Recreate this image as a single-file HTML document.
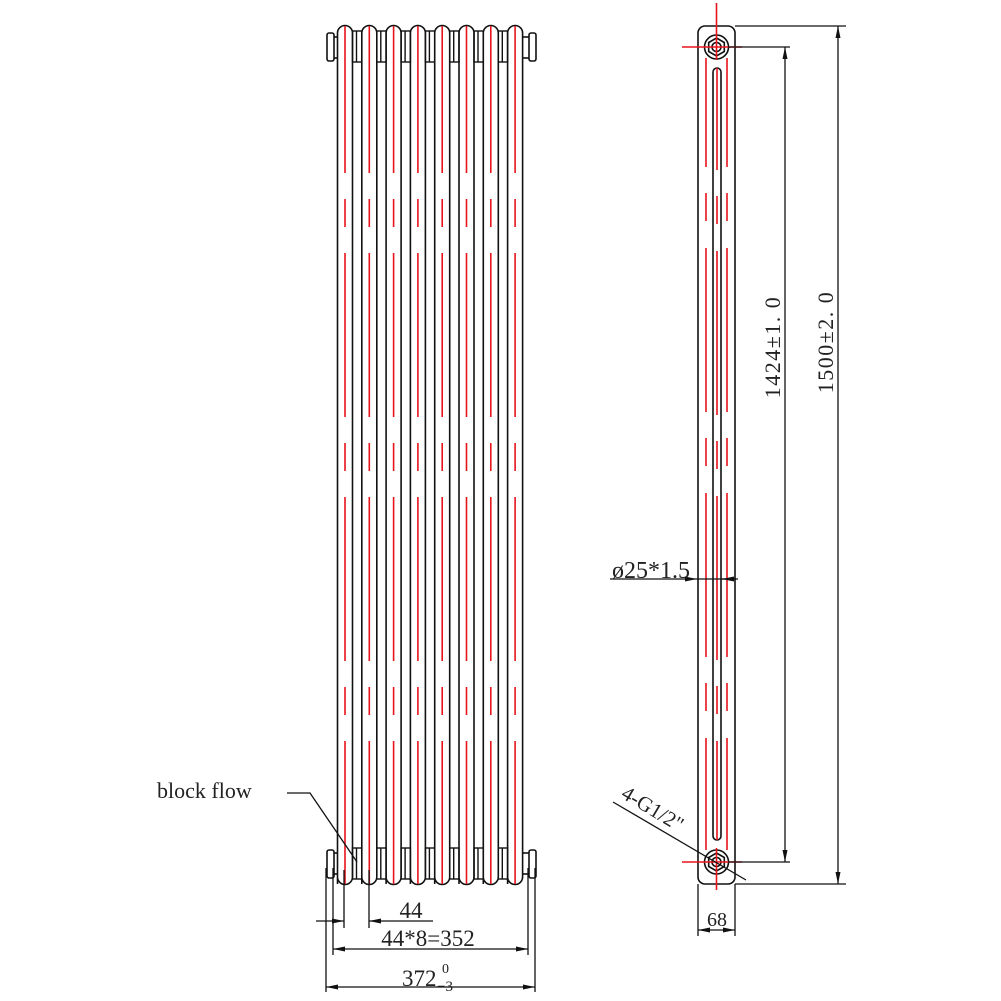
<!DOCTYPE html>
<html><head><meta charset="utf-8"><style>
html,body{margin:0;padding:0;background:#fff;}
svg{display:block;}
text{font-family:"Liberation Serif",serif;fill:#222;}
</style></head><body>
<svg width="1001" height="1001" viewBox="0 0 1001 1001" xmlns="http://www.w3.org/2000/svg" xmlns:xlink="http://www.w3.org/1999/xlink">
<defs>
<marker id="a" markerWidth="12" markerHeight="6" refX="12" refY="3" orient="auto" markerUnits="userSpaceOnUse"><path d="M0,0.5 L12,3 L0,5.5 z" fill="#111"/></marker>
<g id="col">
<path d="M-7.5,884 L-7.5,33 A7.5,7.5 0 0 1 7.5,33 L7.5,877 A7.5,7.5 0 0 1 -7.5,877" stroke="#111" stroke-width="1.6" fill="none"/>
<line x1="0" y1="26" x2="0" y2="884" stroke="#e8141c" stroke-width="1.6" stroke-dasharray="147 26 28 26 164 26 28 26 164 26 28 26 164 26 28 26 164"/>
</g>
<g id="hdr" stroke="#111" stroke-width="1.4" fill="none">
<rect x="7.5" y="31" width="9.3" height="31"/>
<line x1="11.5" y1="31" x2="11.5" y2="62"/>
<rect x="7.5" y="848" width="9.3" height="31"/>
<line x1="11.5" y1="848" x2="11.5" y2="879"/>
</g>
</defs>
<g stroke="#111" stroke-width="1.6" fill="none">
<rect x="327" y="33" width="7" height="28" rx="2"/>
<rect x="529" y="33" width="7" height="28" rx="2"/>
<rect x="327" y="850" width="7" height="28" rx="2"/>
<rect x="529" y="850" width="7" height="28" rx="2"/>
<line x1="334" y1="37" x2="337.5" y2="37"/><line x1="334" y1="58" x2="337.5" y2="58"/>
<line x1="522.6" y1="37" x2="529" y2="37"/><line x1="522.6" y1="58" x2="529" y2="58"/>
<line x1="334" y1="853" x2="337.5" y2="853"/><line x1="334" y1="874" x2="337.5" y2="874"/>
<line x1="522.6" y1="853" x2="529" y2="853"/><line x1="522.6" y1="874" x2="529" y2="874"/>
</g>
<use xlink:href="#hdr" href="#hdr" transform="translate(345,0)"/>
<use xlink:href="#hdr" href="#hdr" transform="translate(369.3,0)"/>
<use xlink:href="#hdr" href="#hdr" transform="translate(393.6,0)"/>
<use xlink:href="#hdr" href="#hdr" transform="translate(417.9,0)"/>
<use xlink:href="#hdr" href="#hdr" transform="translate(442.2,0)"/>
<use xlink:href="#hdr" href="#hdr" transform="translate(466.5,0)"/>
<use xlink:href="#hdr" href="#hdr" transform="translate(490.8,0)"/>
<use xlink:href="#col" href="#col" transform="translate(345,0)"/>
<use xlink:href="#col" href="#col" transform="translate(369.3,0)"/>
<use xlink:href="#col" href="#col" transform="translate(393.6,0)"/>
<use xlink:href="#col" href="#col" transform="translate(417.9,0)"/>
<use xlink:href="#col" href="#col" transform="translate(442.2,0)"/>
<use xlink:href="#col" href="#col" transform="translate(466.5,0)"/>
<use xlink:href="#col" href="#col" transform="translate(490.8,0)"/>
<use xlink:href="#col" href="#col" transform="translate(515.1,0)"/>
<g stroke="#111" stroke-width="1.6" fill="none">
<rect x="698" y="26" width="37" height="858" rx="7"/>
<rect x="713" y="68" width="8" height="772" rx="4"/>
<circle cx="716.5" cy="47" r="12"/><polygon points="716.5,38 724.3,42.5 724.3,51.5 716.5,56 708.7,51.5 708.7,42.5"/><circle cx="716.5" cy="47" r="4.5"/>
<circle cx="716.5" cy="862" r="12"/><polygon points="716.5,853 724.3,857.5 724.3,866.5 716.5,871 708.7,866.5 708.7,857.5"/><circle cx="716.5" cy="862" r="4.5"/>
</g>
<g stroke="#e8141c" stroke-width="1.6">
<line x1="682" y1="47" x2="742" y2="47"/><line x1="716.5" y1="3" x2="716.5" y2="60"/>
<line x1="682" y1="862" x2="742" y2="862"/><line x1="716.5" y1="848" x2="716.5" y2="890"/>
<line x1="706" y1="58" x2="706" y2="850" stroke-dasharray="109 26 28 27 164 26 28 27 164 26 28 27 164 26 28 27 164"/>
<line x1="717" y1="68" x2="717" y2="840" stroke-dasharray="102 26 28 27 164 26 28 27 164 26 28 27 164 26 28 27 164"/>
<line x1="727" y1="58" x2="727" y2="850" stroke-dasharray="109 26 28 27 164 26 28 27 164 26 28 27 164 26 28 27 164"/>
</g>
<g stroke="#111" stroke-width="1.3" fill="none">
<line x1="735" y1="26" x2="846" y2="26"/><line x1="735" y1="884" x2="846" y2="884"/>
<line x1="838" y1="40" x2="838" y2="26" marker-end="url(#a)"/><line x1="838" y1="40" x2="838" y2="870"/><line x1="838" y1="870" x2="838" y2="884" marker-end="url(#a)"/>
<line x1="728" y1="47" x2="790" y2="47"/><line x1="728" y1="862" x2="790" y2="862"/>
<line x1="785" y1="60" x2="785" y2="47" marker-end="url(#a)"/><line x1="785" y1="60" x2="785" y2="850"/><line x1="785" y1="850" x2="785" y2="862" marker-end="url(#a)"/>
<line x1="610" y1="579" x2="697" y2="579" marker-end="url(#a)"/><line x1="697" y1="579" x2="738" y2="579"/>
<line x1="736" y1="579" x2="722" y2="579" marker-end="url(#a)"/>
<line x1="613" y1="802" x2="746" y2="880"/>
<line x1="698" y1="884" x2="698" y2="936"/><line x1="735" y1="884" x2="735" y2="936"/>
<line x1="716" y1="930" x2="698" y2="930" marker-end="url(#a)"/><line x1="716" y1="930" x2="735" y2="930" marker-end="url(#a)"/>
<line x1="326" y1="868" x2="326" y2="992"/><line x1="535" y1="868" x2="535" y2="992"/>
<line x1="333" y1="868" x2="333" y2="955"/><line x1="528" y1="868" x2="528" y2="955"/>
<line x1="344" y1="870" x2="344" y2="928"/><line x1="369" y1="870" x2="369" y2="928"/>
<line x1="316" y1="921" x2="344" y2="921" marker-end="url(#a)"/><line x1="433" y1="921" x2="369" y2="921" marker-end="url(#a)"/>
<line x1="430" y1="949" x2="333" y2="949" marker-end="url(#a)"/><line x1="430" y1="949" x2="528" y2="949" marker-end="url(#a)"/>
<line x1="430" y1="987" x2="326" y2="987" marker-end="url(#a)"/><line x1="430" y1="987" x2="535" y2="987" marker-end="url(#a)"/>
<polyline points="287,793 310,793 357,862"/>
</g>
<text x="157" y="798" font-size="22">block flow</text>
<text x="411" y="918" font-size="23" text-anchor="middle">44</text>
<text x="428" y="946" font-size="23" text-anchor="middle">44*8=352</text>
<text x="402" y="986" font-size="23">372</text>
<text x="442" y="973" font-size="14">0</text>
<text x="437" y="991" font-size="15">−3</text>
<text x="717" y="926" font-size="20" text-anchor="middle">68</text>
<text x="612" y="578" font-size="24">ø25*1.5</text>
<text transform="translate(620,797) rotate(31)" font-size="21">4-G1/2"</text>
<text transform="translate(780,347) rotate(-90)" font-size="22" letter-spacing="1.5" text-anchor="middle">1424±1. 0</text>
<text transform="translate(833,342) rotate(-90)" font-size="22" letter-spacing="1.5" text-anchor="middle">1500±2. 0</text>
</svg>
</body></html>
